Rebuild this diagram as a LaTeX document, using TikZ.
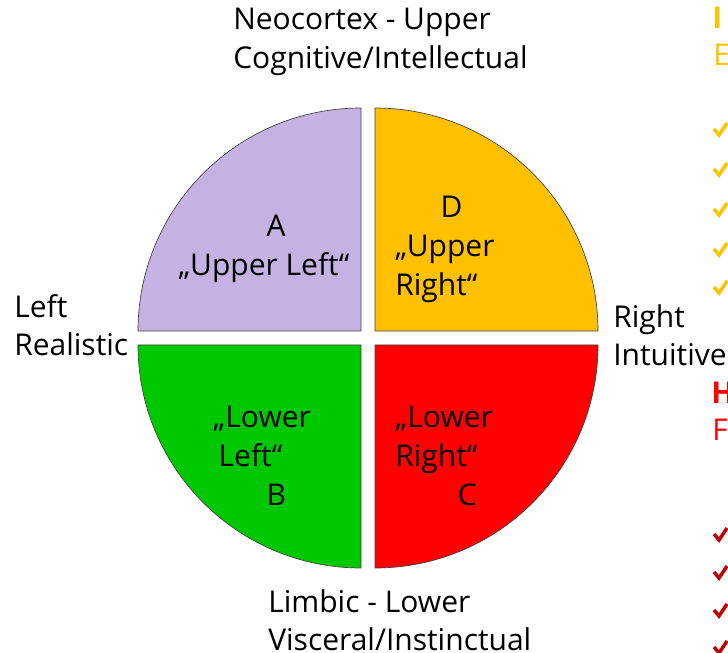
\documentclass[tikz,border=0pt]{standalone}
\usepackage{fontspec}
\setmainfont{Open Sans}
\usetikzlibrary{positioning}
\definecolor{quadA}{HTML}{C3B2E2}
\definecolor{quadD}{HTML}{FFC000}
\definecolor{quadB}{HTML}{00C800}
\definecolor{quadC}{HTML}{FF0000}
\definecolor{tickred}{HTML}{C00000}
\newcommand{\bigfont}{\fontsize{22.5}{29}\selectfont}

\begin{document}
\begin{tikzpicture}[x=0.75pt, y=0.75pt,
  quad/.style={fill=#1, draw=black!75, line width=0.5pt},
  txt/.style={font=\bigfont, align=left, inner sep=0pt, anchor=north west},
  mid/.style={font=\bigfont, align=center, inner sep=0pt},
  tick/.style={draw=#1, line width=2.6pt, line join=miter}
]
\useasboundingbox (0,0) rectangle (728,653);
\clip (0,0) rectangle (728,653);

%% Four quadrants
\draw[quad=quadA] (361,322) -- ++(-223,0) arc[start angle=180, end angle=90, radius=167.25pt] -- cycle;
\draw[quad=quadD] (375,322) -- ++(0,223) arc[start angle=90, end angle=0, radius=167.25pt] -- cycle;
\draw[quad=quadB] (361,308) -- ++(-223,0) arc[start angle=180, end angle=270, radius=167.25pt] -- cycle;
\draw[quad=quadC] (375,308) -- ++(223,0) arc[start angle=0, end angle=-90, radius=167.25pt] -- cycle;

%% Quadrant labels
\node[mid] (qa) at (264,404) {\hspace{18pt}A\\„Upper Left“};
\node[txt] (qd) at (395,457) {\hspace{34pt}D\\„Upper\\Right“};
\node[txt] (qb) at (213,247) {„Lower\\\hspace{4pt}Left“\\\hspace{40pt}B};
\node[txt] (qc) at (395,247) {„Lower\\Right“\\\hspace{47pt}C};

%% Axis captions
\node[txt] (top) at (233,645) {Neocortex - Upper\\Cognitive/Intellectual};
\node[txt] (left) at (14,359) {Left\\Realistic};
\node[txt] (right) at (613,349) {Right\\Intuitive};
\node[txt] (bottom) at (268,64) {Limbic - Lower\\Visceral/Instinctual};

%% Cut-off side lists
\node[txt, text=quadD] (ihead) at (712,646) {\bfseries I};
\node[txt, text=quadD] (ehead) at (713,609) {E};
\node[txt, text=quadC] (hhead) at (711,271) {\bfseries H};
\node[txt, text=quadC] (fhead) at (712,234) {F};
\foreach \y in {523,483,443,403,365}
  \draw[tick=quadD] (714,\y+1) -- (719,\y-5) -- (727,\y+7);
\foreach \y in {118,80,42,5}
  \draw[tick=tickred] (714,\y+1) -- (719,\y-5) -- (727,\y+7);

\end{tikzpicture}
\end{document}
